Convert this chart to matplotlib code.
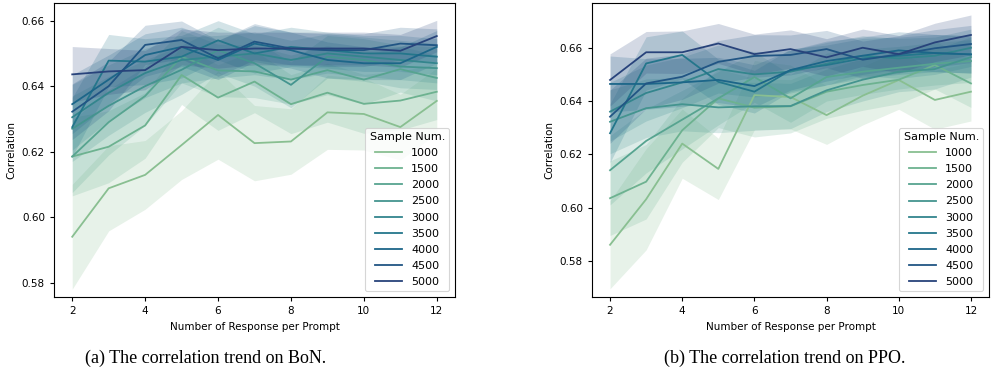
import matplotlib
matplotlib.use("Agg")
import matplotlib.pyplot as plt
import seaborn as sns

# Data
responses = [2, 3, 4, 5, 6, 7, 8, 9, 10, 11, 12]
sample_nums = [1000, 1500, 2000, 2500, 3000, 3500, 4000, 4500, 5000]

bon_mean = [
    [0.5940, 0.6088, 0.6129, 0.6220, 0.6312, 0.6226, 0.6231, 0.6320, 0.6315, 0.6275, 0.6355],
    [0.6185, 0.6215, 0.6280, 0.6434, 0.6365, 0.6414, 0.6345, 0.6380, 0.6346, 0.6356, 0.6383],
    [0.6185, 0.6290, 0.6370, 0.6490, 0.6448, 0.6445, 0.6420, 0.6449, 0.6420, 0.6452, 0.6425],
    [0.6270, 0.6340, 0.6400, 0.6450, 0.6510, 0.6470, 0.6404, 0.6490, 0.6480, 0.6460, 0.6455],
    [0.6305, 0.6380, 0.6440, 0.6480, 0.6490, 0.6500, 0.6480, 0.6500, 0.6490, 0.6480, 0.6470],
    [0.6275, 0.6478, 0.6475, 0.6490, 0.6540, 0.6500, 0.6520, 0.6510, 0.6500, 0.6500, 0.6490],
    [0.6345, 0.6420, 0.6495, 0.6520, 0.6480, 0.6530, 0.6510, 0.6480, 0.6470, 0.6470, 0.6520],
    [0.6322, 0.6400, 0.6526, 0.6541, 0.6485, 0.6536, 0.6515, 0.6510, 0.6510, 0.6530, 0.6525],
    [0.6436, 0.6445, 0.6449, 0.6520, 0.6510, 0.6515, 0.6515, 0.6515, 0.6515, 0.6508, 0.6553],
]
bon_err = [
    [0.0160, 0.0130, 0.0105, 0.0105, 0.0135, 0.0115, 0.0100, 0.0113, 0.0110, 0.0100, 0.0100],
    [0.0120, 0.0110, 0.0100, 0.0090, 0.0100, 0.0095, 0.0090, 0.0090, 0.0090, 0.0090, 0.0085],
    [0.0110, 0.0100, 0.0090, 0.0080, 0.0080, 0.0080, 0.0075, 0.0075, 0.0075, 0.0070, 0.0070],
    [0.0100, 0.0090, 0.0080, 0.0075, 0.0070, 0.0070, 0.0070, 0.0065, 0.0065, 0.0065, 0.0065],
    [0.0100, 0.0085, 0.0075, 0.0070, 0.0065, 0.0065, 0.0060, 0.0060, 0.0060, 0.0060, 0.0060],
    [0.0090, 0.0080, 0.0070, 0.0065, 0.0060, 0.0060, 0.0060, 0.0055, 0.0055, 0.0055, 0.0055],
    [0.0090, 0.0075, 0.0065, 0.0060, 0.0060, 0.0055, 0.0055, 0.0055, 0.0050, 0.0050, 0.0050],
    [0.0085, 0.0075, 0.0060, 0.0058, 0.0055, 0.0055, 0.0050, 0.0050, 0.0050, 0.0050, 0.0050],
    [0.0085, 0.0070, 0.0060, 0.0055, 0.0055, 0.0050, 0.0050, 0.0050, 0.0050, 0.0050, 0.0048],
]

ppo_mean = [
    [0.5860, 0.6031, 0.6240, 0.6145, 0.6422, 0.6415, 0.6347, 0.6420, 0.6479, 0.6404, 0.6435],
    [0.6035, 0.6097, 0.6290, 0.6410, 0.6375, 0.6380, 0.6435, 0.6460, 0.6480, 0.6535, 0.6466],
    [0.6140, 0.6250, 0.6330, 0.6410, 0.6490, 0.6410, 0.6490, 0.6510, 0.6525, 0.6540, 0.6550],
    [0.6322, 0.6373, 0.6388, 0.6376, 0.6380, 0.6381, 0.6440, 0.6480, 0.6510, 0.6520, 0.6565],
    [0.6360, 0.6430, 0.6470, 0.6520, 0.6500, 0.6510, 0.6540, 0.6570, 0.6560, 0.6570, 0.6600],
    [0.6279, 0.6541, 0.6573, 0.6472, 0.6435, 0.6516, 0.6535, 0.6560, 0.6570, 0.6580, 0.6575],
    [0.6464, 0.6464, 0.6470, 0.6479, 0.6456, 0.6516, 0.6550, 0.6570, 0.6590, 0.6580, 0.6575],
    [0.6341, 0.6466, 0.6491, 0.6547, 0.6569, 0.6573, 0.6595, 0.6555, 0.6575, 0.6598, 0.6614],
    [0.6479, 0.6583, 0.6583, 0.6616, 0.6576, 0.6595, 0.6564, 0.6600, 0.6576, 0.6620, 0.6648],
]
ppo_err = [
    [0.0165, 0.0190, 0.0130, 0.0115, 0.0130, 0.0120, 0.0110, 0.0110, 0.0110, 0.0110, 0.0110],
    [0.0140, 0.0140, 0.0120, 0.0110, 0.0110, 0.0100, 0.0100, 0.0095, 0.0090, 0.0090, 0.0090],
    [0.0130, 0.0120, 0.0110, 0.0100, 0.0095, 0.0090, 0.0090, 0.0085, 0.0080, 0.0080, 0.0080],
    [0.0120, 0.0110, 0.0100, 0.0095, 0.0090, 0.0085, 0.0080, 0.0080, 0.0075, 0.0075, 0.0075],
    [0.0110, 0.0105, 0.0095, 0.0090, 0.0085, 0.0080, 0.0080, 0.0075, 0.0075, 0.0070, 0.0070],
    [0.0110, 0.0100, 0.0090, 0.0085, 0.0080, 0.0080, 0.0075, 0.0075, 0.0070, 0.0070, 0.0070],
    [0.0105, 0.0095, 0.0090, 0.0085, 0.0080, 0.0075, 0.0075, 0.0070, 0.0070, 0.0070, 0.0070],
    [0.0100, 0.0095, 0.0085, 0.0080, 0.0080, 0.0075, 0.0070, 0.0070, 0.0070, 0.0070, 0.0070],
    [0.0098, 0.0078, 0.0080, 0.0075, 0.0075, 0.0072, 0.0070, 0.0070, 0.0070, 0.0072, 0.0075],
]

captions = ["(a) The correlation trend on BoN.", "(b) The correlation trend on PPO."]

colors = sns.color_palette("crest", len(sample_nums))


def draw_panel(ax, means, errs):
    for n, m, e, c in zip(sample_nums, means, errs, colors):
        lo = [a - b for a, b in zip(m, e)]
        hi = [a + b for a, b in zip(m, e)]
        ax.fill_between(responses, lo, hi, color=c, alpha=0.2, linewidth=0)
        ax.plot(responses, m, color=c, lw=1.3, label=str(n))
    ax.set_xlim(1.5, 12.5)
    ax.set_xticks([2, 4, 6, 8, 10, 12])
    ax.tick_params(labelsize=7.5, length=3, width=0.8)
    ax.set_xlabel("Number of Response per Prompt", fontsize=7.5, labelpad=4)
    ax.set_ylabel("Correlation", fontsize=7.5, labelpad=4)
    leg = ax.legend(title="Sample Num.", loc="lower right", fontsize=8,
                    title_fontsize=8, handlelength=2.4, labelspacing=0.55,
                    borderpad=0.4, framealpha=0.8)
    leg.get_frame().set_linewidth(0.8)


fig = plt.figure(figsize=(9.91, 3.83), dpi=100)
ax1 = fig.add_axes([54 / 991, 86 / 383, 401 / 991, 294 / 383])
ax2 = fig.add_axes([592 / 991, 86 / 383, 397 / 991, 294 / 383])

draw_panel(ax1, bon_mean, bon_err)
ax1.set_ylim(0.5756, 0.6654)
ax1.set_yticks([0.58, 0.60, 0.62, 0.64, 0.66])

draw_panel(ax2, ppo_mean, ppo_err)
ax2.set_ylim(0.5664, 0.6768)
ax2.set_yticks([0.58, 0.60, 0.62, 0.64, 0.66])

for x, txt in zip([206 / 991, 785 / 991], captions):
    fig.text(x, 1 - 358 / 383, txt, ha="center", va="center",
             fontsize=13, family="Liberation Serif")

fig.savefig("out.png", dpi=100)
